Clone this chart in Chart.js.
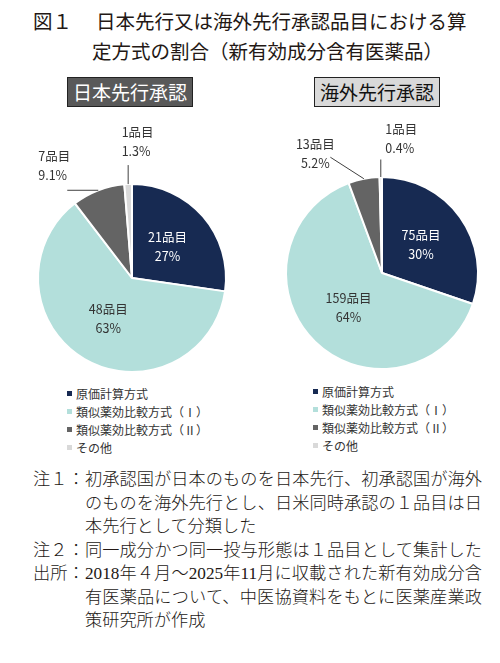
<!DOCTYPE html>
<html lang="ja">
<head>
<meta charset="utf-8">
<script src="https://cdn.jsdelivr.net/npm/chart.js@4"></script>
<style>
  body { margin: 0; background: #fff; width: 500px; height: 663px; position: relative; overflow: hidden;
         font-family: "Noto Sans CJK JP", sans-serif; color: #231815; }
  .abs { position: absolute; white-space: nowrap; }
  .title { font-size: 19.5px; font-weight: 400; line-height: 1; }
  .tag { top: 77px; height: 30px; width: 126px; box-sizing: border-box; border: 1.5px solid #222;
         font-size: 19px; line-height: 27px; text-align: center; }
  .legend { font-size: 12px; color: #333; line-height: 18px; }
  .legend i { display: inline-block; width: 5px; height: 5px; margin-right: 4px; vertical-align: 3px; }
  .notes { font-family: "Liberation Serif", "Noto Sans CJK JP", serif; font-weight: 300; font-size: 17.2px;
           line-height: 23.5px; color: #231815; }
  .notes .row { position: relative; height: 23.5px; }
  .notes .lab { position: absolute; left: 0; }
  .notes .txt { position: absolute; left: 52px; width: 397px; }
  .notes .full { text-align: justify; text-align-last: justify; }
</style>
</head>
<body>
<div class="abs title" style="left:33px;top:11px;">図１</div>
<div class="abs title" style="left:96px;top:11px;">日本先行又は海外先行承認品目における算</div>
<div class="abs title" style="left:92px;top:41px;">定方式の割合（新有効成分含有医薬品）</div>

<div class="abs tag" style="left:67px;background:#595959;color:#fff;">日本先行承認</div>
<div class="abs tag" style="left:314px;background:#d9d9d9;color:#111;">海外先行承認</div>

<canvas id="pieJapan" class="abs" style="left:0;top:115px;" width="250" height="265"></canvas>
<canvas id="pieOverseas" class="abs" style="left:250px;top:115px;" width="250" height="265"></canvas>

<div id="legendJapan" class="abs legend" style="left:67px;top:385px;"></div>
<div id="legendOverseas" class="abs legend" style="left:313px;top:383px;"></div>

<div class="abs notes" style="left:33px;top:468px;">
  <div class="row"><span class="lab">注１：</span><span class="txt full">初承認国が日本のものを日本先行、初承認国が海外</span></div>
  <div class="row"><span class="txt full">のものを海外先行とし、日米同時承認の１品目は日</span></div>
  <div class="row"><span class="txt">本先行として分類した</span></div>
  <div class="row"><span class="lab">注２：</span><span class="txt full">同一成分かつ同一投与形態は１品目として集計した</span></div>
  <div class="row"><span class="lab">出所：</span><span class="txt full">2018年４月～2025年11月に収載された新有効成分含</span></div>
  <div class="row"><span class="txt full">有医薬品について、中医協資料をもとに医薬産業政</span></div>
  <div class="row"><span class="txt">策研究所が作成</span></div>
</div>

<script>
// 算定方式の区分
const categories = ["原価計算方式", "類似薬効比較方式（Ⅰ）", "類似薬効比較方式（Ⅱ）", "その他"];

// 日本先行承認（品目数と表示割合）
const japanCounts = [21, 48, 7, 1];
const japanPercents = ["27%", "63%", "9.1%", "1.3%"];

// 海外先行承認
const overseasCounts = [75, 159, 13, 1];
const overseasPercents = ["30%", "64%", "5.2%", "0.4%"];

const sliceColors = ["#172a52", "#b3dfdb", "#646464", "#d9d9d9"];
const innerTextColors = ["#ffffff", "#333333"];
const FONT = '12.5px "Noto Sans CJK JP"';
const ROW = 19;

// ラベル描画（大きい扇は内側、小さい扇は引き出し線）
const sliceLabels = {
  id: "sliceLabels",
  afterDatasetsDraw(chart, args, opts) {
    const { ctx } = chart;
    const counts = chart.data.datasets[0].data;
    chart.getDatasetMeta(0).data.forEach((arc, i) => {
      const mid = (arc.startAngle + arc.endAngle) / 2;
      const text = [counts[i] + "品目", opts.percents[i]];
      const lead = opts.leaders[i];
      ctx.save();
      ctx.font = FONT;
      ctx.textBaseline = "middle";
      if (!lead) {
        const r = arc.outerRadius * 0.5;
        const x = arc.x + Math.cos(mid) * r;
        const y = arc.y + Math.sin(mid) * r;
        ctx.fillStyle = innerTextColors[i] || "#333";
        ctx.textAlign = "center";
        ctx.fillText(text[0], x, y - ROW / 2);
        ctx.fillText(text[1], x, y + ROW / 2);
      } else {
        const x0 = arc.x + Math.cos(mid) * arc.outerRadius;
        const y0 = arc.y + Math.sin(mid) * arc.outerRadius;
        const x1 = x0 + lead.dx, y1 = y0 + lead.dy;
        ctx.strokeStyle = "#404040";
        ctx.lineWidth = 1;
        ctx.beginPath();
        ctx.moveTo(x0, y0);
        ctx.lineTo(x1, y1);
        ctx.stroke();
        ctx.fillStyle = "#333";
        ctx.textAlign = lead.align;
        ctx.fillText(text[0], x1 + lead.tx, y1 + lead.ty);
        ctx.fillText(text[1], x1 + lead.tx, y1 + lead.ty + ROW);
      }
      ctx.restore();
    });
  },
};

const mkPie = (el, counts, percents, padding, leaders) =>
  new Chart(el, {
    type: "pie",
    data: {
      labels: categories,
      datasets: [{ data: counts, backgroundColor: sliceColors, borderColor: "#fff", borderWidth: 2 }],
    },
    options: {
      responsive: false,
      animation: false,
      layout: { padding },
      plugins: {
        legend: { display: false },
        tooltip: { enabled: false },
        sliceLabels: { percents, leaders },
      },
    },
    plugins: [sliceLabels],
  });

mkPie(document.getElementById("pieJapan"), japanCounts, japanPercents,
  { left: 37, top: 68, right: 23, bottom: 7 },
  [null, null,
   { dx: -31, dy: 0, tx: -29, ty: -34, align: "left" },
   { dx: 0, dy: -19, tx: -6.5, ty: -33, align: "left" }]);

mkPie(document.getElementById("pieOverseas"), overseasCounts, overseasPercents,
  { left: 35, top: 61, right: 21, bottom: 10 },
  [null, null,
   { dx: -33.5, dy: -21.5, tx: -15, ty: -12.5, align: "center" },
   { dx: 0, dy: -17.5, tx: 4.5, ty: -30, align: "left" }]);

// 凡例
const buildLegend = (id) => {
  document.getElementById(id).innerHTML = categories
    .map((c, i) => `<div><i style="background:${sliceColors[i]}"></i>${c}</div>`)
    .join("");
};
buildLegend("legendJapan");
buildLegend("legendOverseas");
</script>
</body>
</html>
